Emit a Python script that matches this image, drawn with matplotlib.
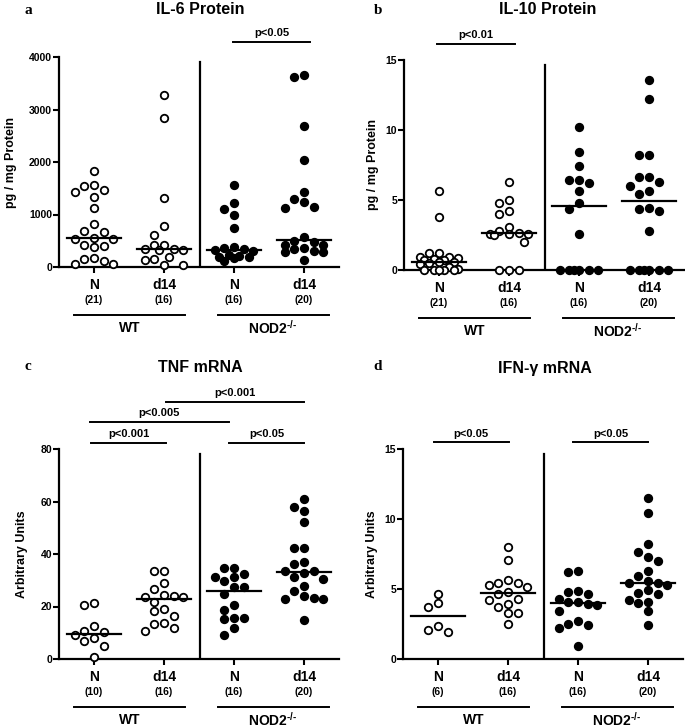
import numpy as np
import matplotlib
matplotlib.use("Agg")
import matplotlib.pyplot as plt

plt.rcParams['font.family'] = ['Liberation Sans', 'DejaVu Sans']
plt.rcParams['font.weight'] = 'bold'
plt.rcParams['mathtext.fontset'] = 'custom'
plt.rcParams['mathtext.rm'] = 'Liberation Sans:bold'
plt.rcParams['mathtext.bf'] = 'Liberation Sans:bold'

# group order: WT N, WT d14, NOD2-/- N, NOD2-/- d14
group_names = ["N", "d14", "N", "d14"]

# a: IL-6 protein (pg / mg protein)
il6_wt_n = [1829, 1562, 1543, 1467, 1435, 1340, 1130, 819, 692, 673, 559,
            540, 530, 413, 400, 387, 165, 146, 114, 57, 57]
il6_wt_d14 = [3280, 2830, 1308, 781, 610, 420, 420, 350, 340, 330, 320,
              185, 146, 133, 40, 40]
il6_ko_n = [1562, 1219, 1105, 1000, 752, 380, 360, 340, 330, 310, 220,
            210, 200, 190, 180, 110]
il6_ko_d14 = [3650, 3620, 2680, 2040, 1435, 1295, 1244, 1149, 1130, 570,
              490, 480, 420, 410, 360, 340, 300, 290, 280, 130]
il6_medians = [546, 337, 324, 514]
il6_counts = ["(21)", "(16)", "(16)", "(20)"]

# b: IL-10 protein (pg / mg protein)
il10_wt_n = [5.65, 3.8, 1.25, 1.2, 0.95, 0.9, 0.85, 0.8, 0.75, 0.7, 0.6,
             0.55, 0.5, 0.45, 0.2, 0.05, 0, 0, 0, 0, 0]
il10_wt_d14 = [6.3, 5.0, 4.8, 4.2, 4.0, 3.1, 2.8, 2.65, 2.6, 2.6, 2.55,
               2.5, 2.0, 0, 0, 0]
il10_ko_n = [10.2, 8.4, 7.45, 6.45, 6.4, 6.2, 5.65, 4.8, 4.35, 2.6,
             0, 0, 0, 0, 0, 0]
il10_ko_d14 = [13.6, 12.2, 8.2, 8.2, 6.65, 6.65, 6.3, 6.0, 5.65, 5.4,
               4.45, 4.35, 4.2, 2.8, 0, 0, 0, 0, 0, 0]
il10_medians = [0.6, 2.62, 4.57, 4.93]
il10_counts = ["(21)", "(16)", "(16)", "(20)"]

# c: TNF mRNA (arbitrary units)
tnf_wt_n = [21.3, 20.5, 12.4, 10.8, 10.4, 9.2, 8.0, 6.9, 4.8, 0.9]
tnf_wt_d14 = [33.7, 33.7, 28.9, 26.7, 24.4, 24.0, 23.8, 23.8, 21.7, 19.2,
              18.1, 16.3, 13.8, 13.4, 11.9, 10.6]
tnf_ko_n = [34.8, 34.8, 32.2, 31.4, 31.2, 29.9, 27.3, 27.3, 24.6, 20.4,
            18.7, 15.6, 15.6, 15.1, 12.0, 9.1]
tnf_ko_d14 = [60.8, 58.0, 56.4, 52.3, 42.2, 42.2, 36.9, 36.3, 33.7, 33.7,
              32.9, 31.1, 30.4, 27.8, 25.9, 24.0, 23.1, 22.9, 22.9, 14.7]
tnf_medians = [9.7, 22.7, 26.0, 33.2]
tnf_counts = ["(10)", "(16)", "(16)", "(20)"]

# d: IFN-gamma mRNA (arbitrary units)
ifn_wt_n = [4.66, 3.99, 3.7, 2.34, 2.04, 1.92]
ifn_wt_d14 = [8.0, 7.1, 5.66, 5.44, 5.42, 5.3, 5.13, 4.77, 4.66, 4.3, 4.18,
              3.94, 3.75, 3.27, 3.27, 2.51]
ifn_ko_n = [6.32, 6.25, 4.89, 4.77, 4.66, 4.3, 4.1, 4.06, 3.94, 3.89, 3.46,
            2.75, 2.51, 2.44, 2.23, 0.92]
ifn_ko_d14 = [11.5, 10.45, 8.25, 7.65, 7.3, 7.0, 6.3, 5.9, 5.6, 5.45, 5.4,
              5.3, 4.9, 4.7, 4.65, 4.25, 4.1, 4.0, 3.4, 2.4]
ifn_medians = [3.04, 4.7, 4.02, 5.45]
ifn_counts = ["(6)", "(16)", "(16)", "(20)"]

W, H = 685, 728
fig = plt.figure(figsize=(W / 100, H / 100), dpi=100)


def px_axes(left, right, top, bottom):
    return fig.add_axes([left / W, 1 - bottom / H, (right - left) / W, (bottom - top) / H])


def swarm(ax, vals, xc, d_px=9.7):
    # column-scatter layout, at most 5 columns wide; overlap when crowded
    vals = np.asarray(vals, float)
    ys = ax.transData.transform(np.column_stack([np.full(len(vals), xc), vals]))[:, 1]
    ppx = ax.transData.transform([[1, 0]])[0, 0] - ax.transData.transform([[0, 0]])[0, 0]
    placed = []
    xs = np.zeros(len(vals))
    cands = [0, -1, 1, -2, 2]
    extra = [-0.5, 0.5, -1.5, 1.5]
    for i in np.argsort(-vals, kind="stable"):
        best, best_d = None, -1
        for k in cands:
            ox = k * d_px
            dmin = min([np.hypot(ox - px, ys[i] - py) for px, py in placed] or [1e9])
            if dmin >= 0.95 * d_px:
                best = ox
                break
            if dmin > best_d:
                best, best_d = ox, dmin
        else:
            for k in extra:
                ox = k * d_px
                dmin = min(np.hypot(ox - px, ys[i] - py) for px, py in placed)
                if dmin > best_d:
                    best, best_d = ox, dmin
        placed.append((best, ys[i]))
        xs[i] = xc + best / ppx
    return xs


def draw_panel(ax, groups, medians, counts, ymax, yticks, ah):
    ax.set_xlim(0.5, 4.5)
    ax.set_ylim(0, ymax)
    for s in ["top", "right"]:
        ax.spines[s].set_visible(False)
    for s in ["left", "bottom"]:
        ax.spines[s].set_linewidth(1.6)
    ax.set_yticks(yticks)
    ax.set_xticks([1, 2, 3, 4])
    ax.set_xticklabels([])
    ax.tick_params(direction="out", length=4, width=1.5, labelsize=7.5, pad=1)
    for i, vals in enumerate(groups):
        xc = i + 1
        xs = swarm(ax, vals, xc)
        face = "white" if i < 2 else "black"
        ax.plot(xs, vals, "o", ms=5.4, mfc=face, mec="black", mew=1.3, clip_on=False, zorder=3)
        ax.plot([xc - 0.39, xc + 0.39], [medians[i], medians[i]], color="black", lw=1.6, zorder=4)
        ax.text(xc, -18 / ah, group_names[i], transform=ax.get_xaxis_transform(),
                ha="center", va="center", fontsize=10)
        ax.text(xc, -33 / ah, counts[i], transform=ax.get_xaxis_transform(),
                ha="center", va="center", fontsize=7.5)
    tr = ax.get_xaxis_transform()
    ax.plot([2.52, 2.52], [0, 0.975], color="black", lw=1.6, transform=tr)
    ax.plot([0.72, 2.3], [-48 / ah] * 2, color="black", lw=1.4, transform=tr, clip_on=False)
    ax.plot([2.77, 4.36], [-48 / ah] * 2, color="black", lw=1.4, transform=tr, clip_on=False)
    ax.text(1.51, -61 / ah, "WT", transform=tr, ha="center", va="center", fontsize=10)
    ax.text(3.56, -61 / ah, r"NOD2$^{\text{-/-}}$", transform=tr, ha="center", va="center",
            fontsize=10)


def pbar(ax, x0, x1, y, ty, label):
    tr = ax.get_xaxis_transform()
    ax.plot([x0, x1], [y, y], color="black", lw=1.4, transform=tr, clip_on=False)
    ax.text((x0 + x1) / 2, ty, label, transform=tr, ha="center", va="center", fontsize=8)


ax_a = px_axes(59, 339, 57, 267)
ax_b = px_axes(404, 684, 60, 270)
ax_c = px_axes(59, 339, 449, 659)
ax_d = px_axes(403, 683, 449, 659)

draw_panel(ax_a, [il6_wt_n, il6_wt_d14, il6_ko_n, il6_ko_d14], il6_medians, il6_counts,
           4000, [0, 1000, 2000, 3000, 4000], 210)
draw_panel(ax_b, [il10_wt_n, il10_wt_d14, il10_ko_n, il10_ko_d14], il10_medians, il10_counts,
           15, [0, 5, 10, 15], 210)
draw_panel(ax_c, [tnf_wt_n, tnf_wt_d14, tnf_ko_n, tnf_ko_d14], tnf_medians, tnf_counts,
           80, [0, 20, 40, 60, 80], 210)
draw_panel(ax_d, [ifn_wt_n, ifn_wt_d14, ifn_ko_n, ifn_ko_d14], ifn_medians, ifn_counts,
           15, [0, 5, 10, 15], 210)

pbar(ax_a, 2.99, 4.09, 1.071, 1.114, "p<0.05")
pbar(ax_b, 0.97, 2.09, 1.076, 1.119, "p<0.01")
pbar(ax_c, 0.96, 2.03, 1.029, 1.071, "p<0.001")
pbar(ax_c, 2.93, 4.0, 1.029, 1.071, "p<0.05")
pbar(ax_c, 0.94, 2.93, 1.129, 1.17, "p<0.005")
pbar(ax_c, 2.03, 4.0, 1.224, 1.265, "p<0.001")
pbar(ax_d, 0.94, 2.01, 1.033, 1.071, "p<0.05")
pbar(ax_d, 2.93, 4.0, 1.033, 1.071, "p<0.05")

# titles, panel letters and y labels
fig.text(200 / W, 1 - 10 / H, "IL-6 Protein", ha="center", va="center", fontsize=11.5)
fig.text(548 / W, 1 - 10 / H, "IL-10 Protein", ha="center", va="center", fontsize=11.5)
fig.text(200 / W, 1 - 368 / H, "TNF mRNA", ha="center", va="center", fontsize=11.5)
fig.text(545 / W, 1 - 368 / H, "IFN-\u03b3 mRNA", ha="center", va="center", fontsize=11.5)
for lx, ly, lt in [(28, 10, "a"), (378, 10, "b"), (28, 366, "c"), (378, 366, "d")]:
    fig.text(lx / W, 1 - ly / H, lt, ha="center", va="center", fontsize=11,
             family="Liberation Serif")
fig.text(11 / W, 1 - 162 / H, "pg / mg Protein", rotation=90, ha="center", va="center", fontsize=9)
fig.text(373 / W, 1 - 165 / H, "pg / mg Protein", rotation=90, ha="center", va="center", fontsize=9)
fig.text(22 / W, 1 - 554 / H, "Arbitrary Units", rotation=90, ha="center", va="center", fontsize=9)
fig.text(372 / W, 1 - 554 / H, "Arbitrary Units", rotation=90, ha="center", va="center", fontsize=9)

fig.savefig("out.png", dpi=100)
